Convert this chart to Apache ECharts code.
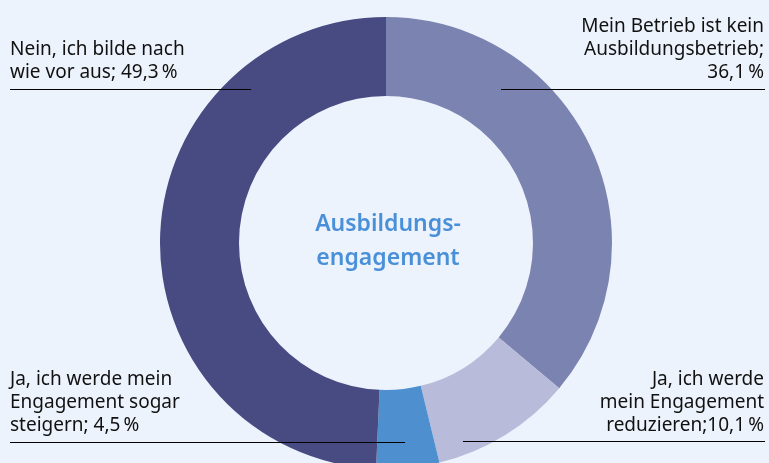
<!DOCTYPE html>
<html>
<head>
<meta charset="utf-8">
<script src="https://cdn.jsdelivr.net/npm/echarts@6/dist/echarts.min.js"></script>
<style>
    html, body { margin: 0; padding: 0; background: #edf3fc; }
    #main { width: 769px; height: 463px; }
</style>
</head>
<body>
<div id="main"></div>
<script>
// Anteile, im Uhrzeigersinn ab 12 Uhr
var categories = [
    'Mein Betrieb ist kein\nAusbildungsbetrieb;\n',
    'Ja, ich werde\nmein Engagement\nreduzieren;',
    'Ja, ich werde mein\nEngagement sogar\nsteigern; ',
    'Nein, ich bilde nach\nwie vor aus; '
];
var values = [36.1, 10.1, 4.5, 49.3];
var colors = ['#7b83b0', '#b8bbd9', '#4e8fd0', '#474b82'];
var centerTitle = 'Ausbildungs-\nengagement';

// wo die Beschriftungen stehen (Text + Linie)
var labelPos = [
    { x: 764, y: 84, align: 'right', line: [[501, 89.5], [633, 89.5], [765, 89.5]] },
    { x: 764, y: 437, align: 'right', line: [[463, 441.5], [614, 441.5], [765, 441.5]] },
    { x: 10, y: 437, align: 'left', line: [[405, 442.5], [208, 442.5], [10, 442.5]] },
    { x: 10, y: 84, align: 'left', line: [[251, 89.5], [130, 89.5], [10, 89.5]] }
];

var myChart = echarts.init(document.getElementById('main'));

var pieCenter = [386, 243];
var pieRadius = [147, 226];

var option = {
    backgroundColor: '#edf3fc',
    animation: false,
    title: {
        text: centerTitle,
        left: 383,
        top: 202,
        textAlign: 'center',
        textStyle: {
            color: '#4a90d9',
            fontFamily: 'Noto Sans',
            fontWeight: 600,
            fontSize: 23,
            lineHeight: 34
        }
    },
    series: [
        {
            // die Ringsegmente
            type: 'pie',
            center: pieCenter,
            radius: pieRadius,
            startAngle: 90,
            clockwise: true,
            silent: true,
            data: categories.map(function (name, i) {
                return { name: name, value: values[i], itemStyle: { color: colors[i] } };
            }),
            itemStyle: { borderWidth: 0 },
            label: { show: false },
            labelLine: { show: false }
        },
        {
            // gleicher Ring, unsichtbar, nur fuer Beschriftung + Linien oben drauf
            type: 'pie',
            z: 5,
            center: pieCenter,
            radius: pieRadius,
            startAngle: 90,
            clockwise: true,
            silent: true,
            data: categories.map(function (name, i) {
                return { name: name, value: values[i] };
            }),
            itemStyle: { color: 'transparent', borderWidth: 0 },
            label: {
                show: true,
                position: 'outside',
                overflow: 'none',
                color: '#111',
                fontFamily: 'Noto Sans',
                fontSize: 19,
                lineHeight: 23,
                formatter: function (p) {
                    return p.name + String(p.value).replace('.', ',') + '\u2009%';
                }
            },
            labelLine: {
                show: true,
                lineStyle: { color: '#000', width: 1 }
            },
            labelLayout: function (params) {
                var pos = labelPos[params.dataIndex];
                return {
                    x: pos.x,
                    y: pos.y,
                    align: pos.align,
                    verticalAlign: 'bottom',
                    labelLinePoints: pos.line
                };
            }
        }
    ]
};

myChart.setOption(option);
</script>
</body>
</html>
